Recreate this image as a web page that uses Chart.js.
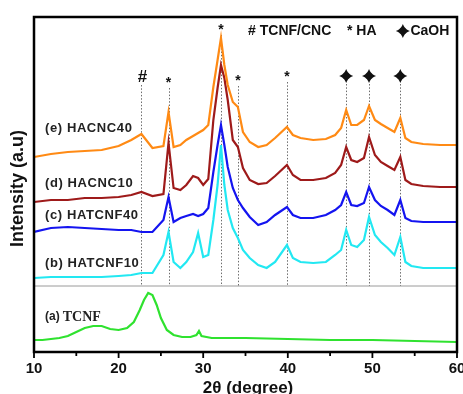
<!DOCTYPE html>
<html><head><meta charset="utf-8">
<script src="https://cdn.jsdelivr.net/npm/chart.js@4/dist/chart.umd.min.js"></script>
<style>html,body{margin:0;padding:0;background:#fff}#wrap{width:463px;height:394px;position:relative}</style>
</head><body><div id="wrap"><canvas id="c" width="463" height="394"></canvas></div>
<script>
// 2θ grid shared by the HA-containing samples (b)–(e)
const twoThetaHA = [10,12,14,16,18,20,21.5,22.7,24,25.3,25.9,26.5,27.3,28,28.8,29.4,30,30.6,31.2,31.7,32.1,32.5,32.9,33.5,34.1,34.7,35.5,36.5,37.5,38.5,39.9,40.6,41.5,43,44.5,45.6,46.3,46.9,47.5,48.2,49.0,49.6,50.3,51,51.8,52.6,53.3,53.9,54.6,56,58,60];
const intensityE_HACNC40 = [195,198,200,201,202,206,212,218,204,206,240,205,207,212,216,219,222,227,265,292,314,287,267,250,245,220,210,205,207,214,225,217,214,212,213,217,224,242,227,227,232,246,232,228,224,220,234,214,210,208,207,207];
const intensityD_HACNC10 = [150,152,152,154,154,155,157,160,156,158,209,164,162,167,176,174,167,173,232,264,287,274,252,212,205,184,172,168,169,176,187,177,172,172,174,179,187,205,192,190,194,215,197,190,186,182,195,172,168,166,165,165];
const intensityC_HATCNF40 = [120,124,125,124,123,122,122,120,120,132,155,130,134,136,138,136,138,144,180,207,227,207,185,164,152,144,135,127,130,137,145,137,134,134,137,142,147,160,147,146,149,165,152,146,142,137,152,134,131,130,130,130];
const intensityB_HATCNF10 = [74,75,75,75,75,76,77,79,79,97,120,90,84,90,100,119,95,97,132,167,207,167,142,124,114,102,94,87,84,90,107,94,90,89,90,97,102,122,107,105,112,135,117,110,104,97,115,90,86,84,84,84];
// 2θ grid for the pure TCNF sample (a)
const twoThetaTCNF = [10,11,12,13,14,15,16,17,18,19,20,21,21.8,22.5,23,23.5,24,24.5,25,25.7,26.5,27.5,28.5,29.2,29.5,29.8,31,35,40,45,50,55,60];
const intensityA_TCNF = [12,12,13,14,16,20,24,26,26,23,22,24,30,42,52,59,57,47,34,22,17,15,15,17,21,16,14,14,13,12,12,11,10];

const xTickValues = [10,20,30,40,50,60];
const peakPositions = [22.7,25.9,32.1,34.1,39.9,46.9,49.6,53.3];
const peakSymbols = ['#','*','*','*','*','+','+','+'];
const peakSymbolLevels = [275,272,325,274,278,276,276,276];
const separatorLevel = 66;
const curveNames = ['(e) HACNC40','(d) HACNC10','(c) HATCNF40','(b) HATCNF10'];
const curveNameLevels = [224,169,137,89];
const tcnfLabelLevel = 35;

const pts = (xs, ys) => xs.map((x, i) => ({x, y: ys[i]}));
const ds = (label, xs, ys, color) => ({label, data: pts(xs, ys), borderColor: color, borderWidth: 2.2, pointRadius: 0, tension: 0, fill: false});

function fatCross(ctx, cx, cy, r) {
  const k = r * 0.4;
  ctx.beginPath();
  ctx.moveTo(cx, cy - r);
  ctx.quadraticCurveTo(cx + k * 0.6, cy - k * 1.1, cx + k, cy - k);
  ctx.quadraticCurveTo(cx + k * 1.1, cy - k * 0.6, cx + r, cy);
  ctx.quadraticCurveTo(cx + k * 1.1, cy + k * 0.6, cx + k, cy + k);
  ctx.quadraticCurveTo(cx + k * 0.6, cy + k * 1.1, cx, cy + r);
  ctx.quadraticCurveTo(cx - k * 0.6, cy + k * 1.1, cx - k, cy + k);
  ctx.quadraticCurveTo(cx - k * 1.1, cy + k * 0.6, cx - r, cy);
  ctx.quadraticCurveTo(cx - k * 1.1, cy - k * 0.6, cx - k, cy - k);
  ctx.quadraticCurveTo(cx - k * 0.6, cy - k * 1.1, cx, cy - r);
  ctx.closePath();
  ctx.fill();
}

const decor = {
  id: 'decor',
  beforeDatasetsDraw(chart) {
    const {ctx, chartArea: a, scales: {x, y}} = chart;
    ctx.save();
    ctx.strokeStyle = '#9a9a9a'; ctx.lineWidth = 1;
    const ys = y.getPixelForValue(separatorLevel);
    ctx.beginPath(); ctx.moveTo(a.left, ys); ctx.lineTo(a.right, ys); ctx.stroke();
    ctx.strokeStyle = '#6d6d6d'; ctx.setLineDash([1.5, 1.8]);
    peakPositions.forEach((p, i) => {
      const px = Math.round(x.getPixelForValue(p)) + 0.5;
      ctx.beginPath(); ctx.moveTo(px, y.getPixelForValue(peakSymbolLevels[i]) + 8); ctx.lineTo(px, ys); ctx.stroke();
    });
    ctx.restore();
  },
  afterDatasetsDraw(chart) {
    const {ctx, chartArea: a, scales: {x, y}} = chart;
    ctx.save();
    ctx.fillStyle = '#111';
    ctx.textAlign = 'center'; ctx.textBaseline = 'middle';
    peakPositions.forEach((p, i) => {
      const s = peakSymbols[i];
      const px = x.getPixelForValue(p), py = y.getPixelForValue(peakSymbolLevels[i]);
      if (s === '#') { ctx.font = 'bold 17px "Liberation Sans"'; ctx.fillText(s, px + 1, py); }
      else if (s === '*') { ctx.font = 'bold 14px "Liberation Sans"'; ctx.fillText(s, px, py + 3); }
      else { fatCross(ctx, px, py, 7); }
    });
    // legend text
    ctx.textAlign = 'left';
    const ly = y.getPixelForValue(321);
    ctx.font = 'bold 14px "Liberation Sans"';
    ctx.fillText('# TCNF/CNC', x.getPixelForValue(35.3), ly);
    ctx.fillText('* HA', x.getPixelForValue(47.0), ly);
    fatCross(ctx, x.getPixelForValue(53.6), ly, 7);
    ctx.fillText('CaOH', x.getPixelForValue(54.5), ly);
    // curve names
    ctx.fillStyle = '#222';
    ctx.font = 'bold 13px "Liberation Sans"';
    ctx.letterSpacing = '0.6px';
    curveNames.forEach((n, i) => ctx.fillText(n, x.getPixelForValue(11.3), y.getPixelForValue(curveNameLevels[i])));
    ctx.letterSpacing = '0px';
    ctx.font = 'bold 12px "Liberation Sans"';
    ctx.fillText('(a)', x.getPixelForValue(11.3), y.getPixelForValue(tcnfLabelLevel));
    ctx.font = 'bold 14px "Liberation Serif"';
    ctx.fillText('TCNF', x.getPixelForValue(13.4), y.getPixelForValue(tcnfLabelLevel));
    // frame
    ctx.strokeStyle = '#000'; ctx.lineWidth = 2.5;
    ctx.strokeRect(a.left, a.top, a.right - a.left, a.bottom - a.top);
    // ticks
    ctx.lineWidth = 1.8;
    for (let v = 10; v <= 60; v += 5) {
      const px = x.getPixelForValue(v);
      const len = v % 10 === 0 ? 6 : 4;
      ctx.beginPath(); ctx.moveTo(px, a.bottom); ctx.lineTo(px, a.bottom + len); ctx.stroke();
    }
    // axis titles
    ctx.fillStyle = '#111';
    ctx.textAlign = 'center';
    ctx.font = 'bold 17px "Liberation Sans"';
    ctx.fillText('2\u03B8 (degree)', x.getPixelForValue(35.3), a.bottom + 36);
    ctx.translate(a.left - 16, (a.top + a.bottom) / 2 + 4);
    ctx.rotate(-Math.PI / 2);
    ctx.font = 'bold 18px "Liberation Sans"';
    ctx.fillText('Intensity (a.u)', 0, 0);
    ctx.restore();
  }
};

new Chart(document.getElementById('c'), {
  type: 'line',
  data: {
    datasets: [
      ds('(e) HACNC40', twoThetaHA, intensityE_HACNC40, '#ff8a14'),
      ds('(d) HACNC10', twoThetaHA, intensityD_HACNC10, '#9e1a1a'),
      ds('(b) HATCNF10', twoThetaHA, intensityB_HATCNF10, '#22e8f2'),
      ds('(c) HATCNF40', twoThetaHA, intensityC_HATCNF40, '#1414f0'),
      ds('(a) TCNF', twoThetaTCNF, intensityA_TCNF, '#2fe22f')
    ]
  },
  options: {
    responsive: false, animation: false, devicePixelRatio: 1,
    layout: {padding: {left: 34, right: 6, top: 17, bottom: 0}},
    plugins: {legend: {display: false}, tooltip: {enabled: false}},
    scales: {
      x: {
        type: 'linear', min: 10, max: 60,
        afterFit(s) { s.height = 42; s.paddingLeft = 0; s.paddingRight = 0; },
        afterBuildTicks(s) { s.ticks = xTickValues.map(v => ({value: v})); },
        grid: {display: false, drawTicks: false},
        border: {display: false},
        ticks: {padding: 8, color: '#111', font: {family: 'Liberation Sans', weight: 'bold', size: 15}}
      },
      y: {
        display: false, min: 0, max: 335
      }
    }
  },
  plugins: [decor]
});
</script></body></html>
